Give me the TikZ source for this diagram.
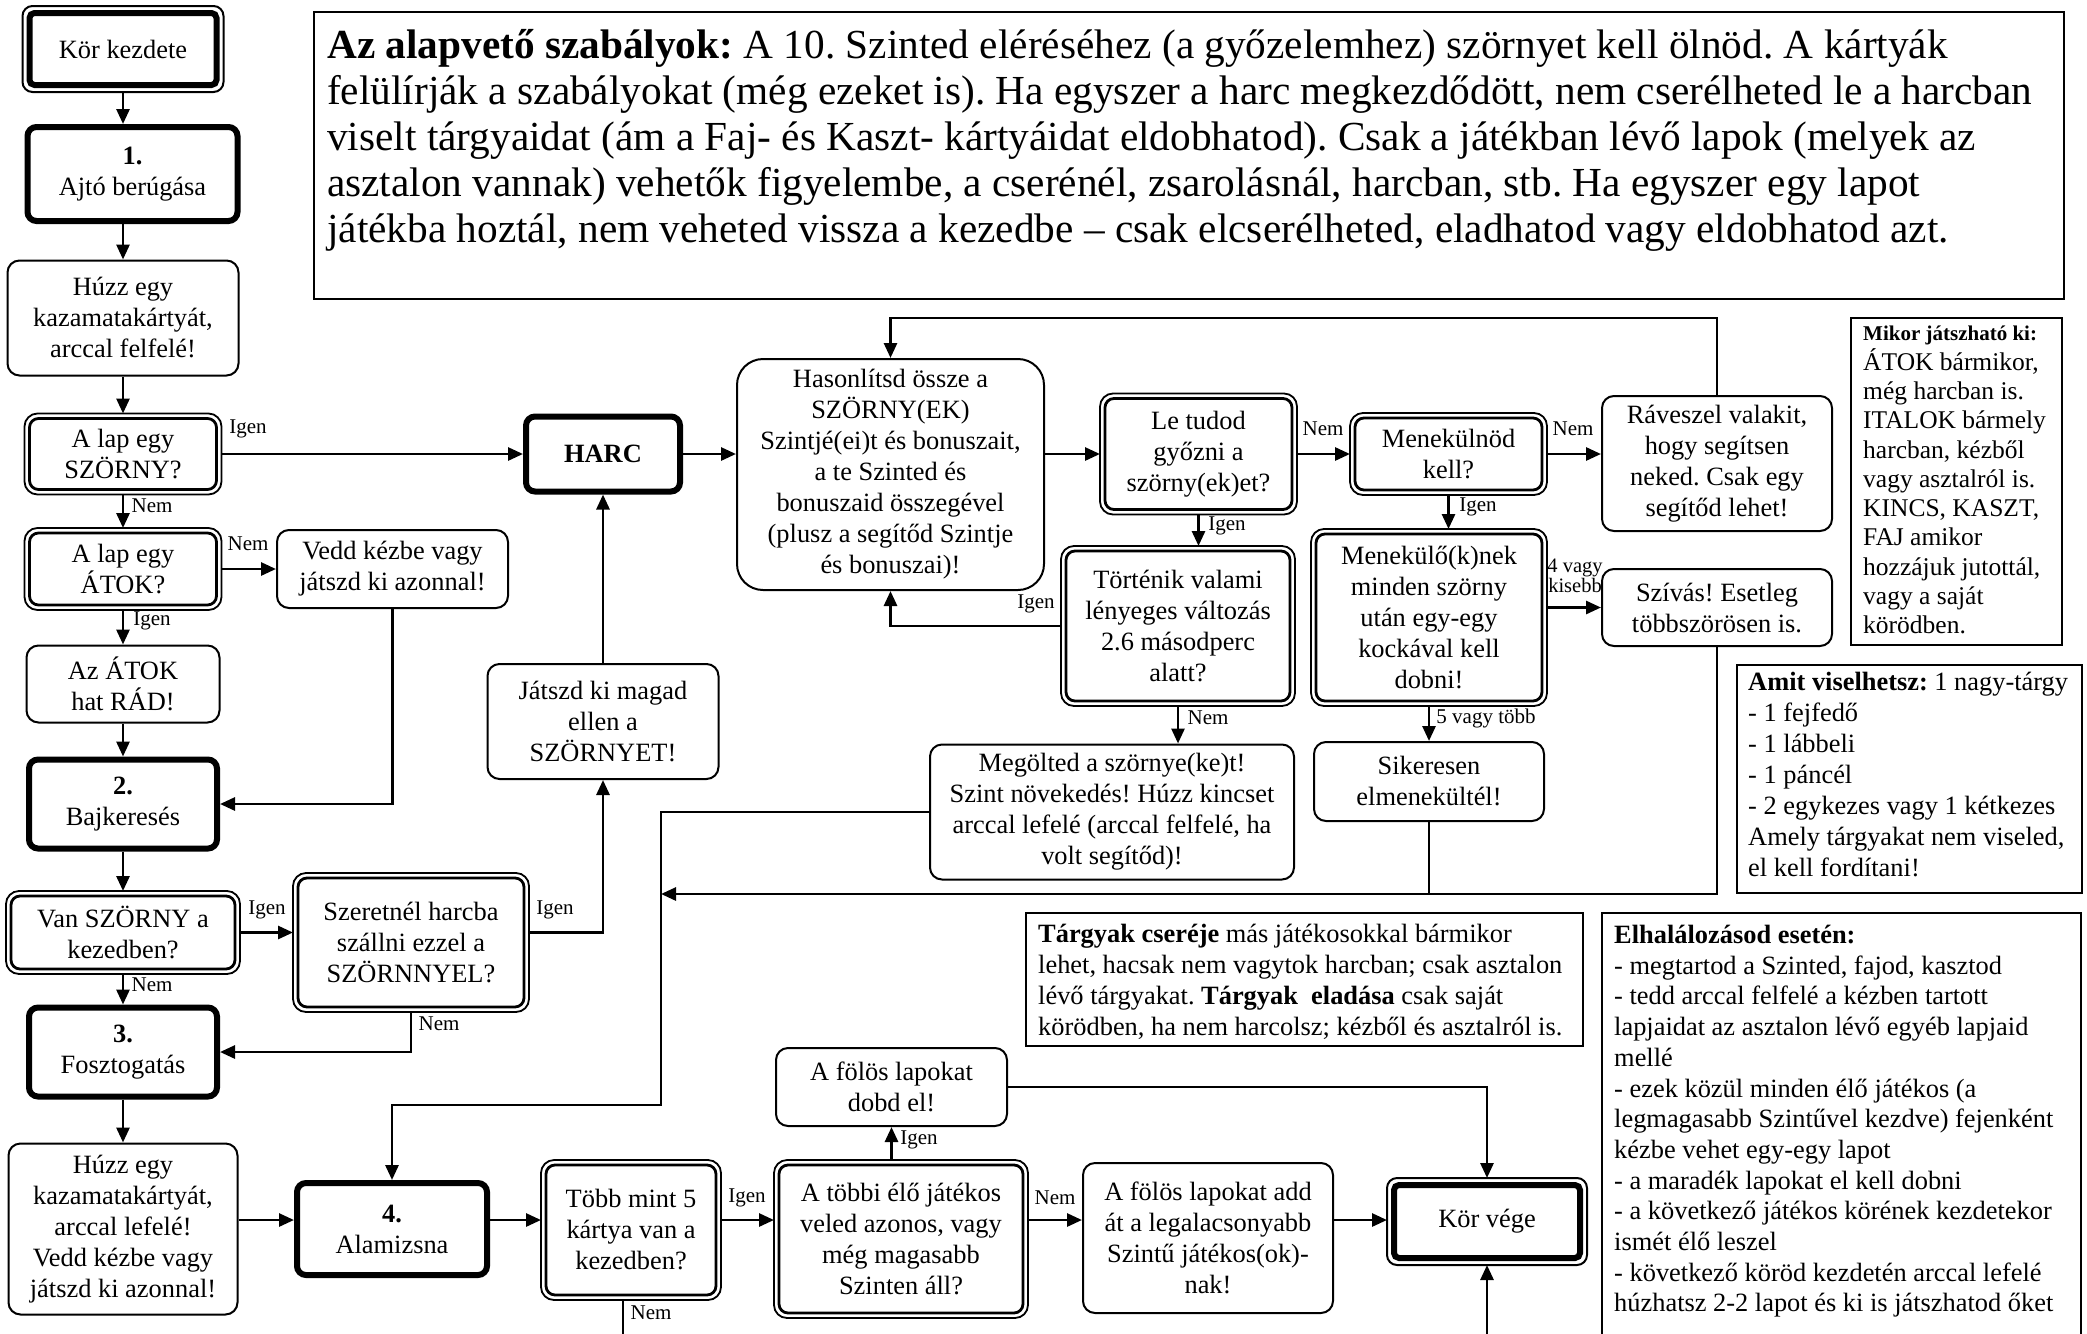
\documentclass[tikz,border=0pt]{standalone}
\usepackage{fontspec}
\setmainfont{Liberation Serif}
\usetikzlibrary{arrows.meta}
\frenchspacing

\tikzset{
  boxtext/.style={align=center, inner sep=2pt, font=\fontsize{26.4}{31}\selectfont},
  process/.style={boxtext, draw, line width=2pt, rounded corners=12pt},
  stepbox/.style={boxtext, draw, line width=6pt, rounded corners=9pt},
  decision/.style={boxtext, draw, line width=2.8pt, rounded corners=9pt, outer sep=5pt},
  startend/.style={boxtext, draw, line width=6pt, rounded corners=5pt, outer sep=7pt},
  dframe/.style={line width=1.8pt, rounded corners=13pt},
  infobox/.style={line width=2.2pt},
  infotext/.style={align=left, anchor=north west, inner sep=0pt, font=\fontsize{26.4}{31}\selectfont},
  lbl/.style={inner sep=0pt, font=\fontsize{21}{24}\selectfont},
  conn/.style={line width=2.8pt},
  arr/.style={conn, -{Triangle[length=15pt,width=13pt]}}
}

\begin{document}
\begin{tikzpicture}[x=1pt, y=-1pt]
\path[use as bounding box, fill=white] (0,0) rectangle (2087,1333);

% left column
\node[startend, minimum width=187, minimum height=72] (korkezd) at (123,49) {Kör kezdete};
\node[stepbox, minimum width=210, minimum height=94] (ajto) at (132.5,174) {\textbf{1.}\\Ajtó berúgása};
\node[process, minimum width=231, minimum height=115] (huzz1) at (123,318) {Húzz egy\\kazamatakártyát,\\arccal felfelé!};
\node[decision, minimum width=187, minimum height=71] (szorny) at (123,454) {A lap egy\\SZÖRNY?};
\node[decision, minimum width=187, minimum height=72] (atok) at (123,569) {A lap egy\\ÁTOK?};
\node[process, minimum width=231, minimum height=78] (vedd) at (392.5,569) {Vedd kézbe vagy\\játszd ki azonnal!};
\node[process, minimum width=193, minimum height=77] (atokhat) at (123,684) {Az ÁTOK\\hat RÁD!};
\node[stepbox, minimum width=188, minimum height=89] (baj) at (123,804) {\textbf{2.}\\Bajkeresés};
\node[decision, minimum width=224, minimum height=73] (van) at (123,932.5) {Van SZÖRNY a\\kezedben?};
\node[decision, minimum width=226, minimum height=129] (szeretnel) at (411,942.5) {Szeretnél harcba\\szállni ezzel a\\SZÖRNNYEL?};
\node[stepbox, minimum width=188, minimum height=89] (foszt) at (123,1052) {\textbf{3.}\\Fosztogatás};
\node[process, minimum width=229, minimum height=171] (huzz2) at (123,1229) {Húzz egy\\kazamatakártyát,\\arccal lefelé!\\Vedd kézbe vagy\\játszd ki azonnal!};

% bottom row
\node[stepbox, minimum width=190, minimum height=92] (alam) at (392,1229) {\textbf{4.}\\Alamizsna};
\node[decision, minimum width=170, minimum height=130] (tobb) at (631,1230) {Több mint 5\\kártya van a\\kezedben?};
\node[decision, minimum width=244, minimum height=148] (tobbi) at (901,1239) {A többi élő játékos\\veled azonos, vagy\\még magasabb\\Szinten áll?};
\node[process, minimum width=231, minimum height=78] (folos) at (891.5,1087) {A fölös lapokat\\dobd el!};
\node[process, minimum width=250, minimum height=150] (addat) at (1208,1238) {A fölös lapokat add\\át a legalacsonyabb\\Szintű játékos(ok)-\\nak!};
\node[startend, minimum width=186, minimum height=73] (korvege) at (1487,1221.5) {Kör vége};

% fight
\node[stepbox, minimum width=154, minimum height=75] (harc) at (603,454) {\textbf{HARC}};
\node[process, minimum width=231, minimum height=115] (jatszd) at (603,721.5) {Játszd ki magad\\ellen a\\SZÖRNYET!};
\node[process, rounded corners=26pt, minimum width=307, minimum height=231] (hason) at (890.5,474.5) {Hasonlítsd össze a\\SZÖRNY(EK)\\Szintjé(ei)t és bonuszait,\\a te Szinted és\\bonuszaid összegével\\(plusz a segítőd Szintje\\és bonuszai)!};
\node[decision, minimum width=187, minimum height=111] (letud) at (1198.5,454) {Le tudod\\győzni a\\szörny(ek)et?};
\node[decision, minimum width=187, minimum height=72] (menek) at (1448.5,454) {Menekülnöd\\kell?};
\node[process, minimum width=230, minimum height=135] (ravesz) at (1717,463.5) {Ráveszel valakit,\\hogy segítsen\\neked. Csak egy\\segítőd lehet!};
\node[decision, minimum width=224, minimum height=150] (tort) at (1178,626) {Történik valami\\lényeges változás\\2.6 másodperc\\alatt?};
\node[process, minimum width=364, minimum height=135] (megol) at (1112,812) {Megölted a szörnye(ke)t!\\Szint növekedés! Húzz kincset\\arccal lefelé (arccal felfelé, ha\\volt segítőd)!};
\node[decision, minimum width=226, minimum height=167] (mene2) at (1429,617.5) {Menekülő(k)nek\\minden szörny\\után egy-egy\\kockával kell\\dobni!};
\node[process, minimum width=230, minimum height=77] (szivas) at (1717,607.5) {Szívás! Esetleg\\többszörösen is.};
\node[process, minimum width=230, minimum height=79] (sikeres) at (1429,781.5) {Sikeresen\\elmenekültél!};

% outer lines of the double boxes
\foreach \n in {szorny,atok,van,szeretnel,letud,menek,tort,mene2,tobb,tobbi}
  \draw[dframe] (\n.north west) rectangle (\n.south east);
\foreach \n in {korkezd,korvege}
  \draw[dframe, line width=2pt, rounded corners=10pt] (\n.north west) rectangle (\n.south east);

% connectors
\coordinate (fent) at (890.5,318);
\coordinate (gyujto) at (661,894);
\coordinate (kanyar) at (661,1105);
\coordinate (sor4) at (0,1220);
\coordinate (tobbki) at (623,1345);
\coordinate (vegbe) at (1487,1345);

\draw[arr] (korkezd) -- (korkezd |- ajto.north);
\draw[arr] (ajto.south -| huzz1) -- (huzz1);
\draw[arr] (huzz1) -- (szorny);
\draw[arr] (szorny) -- (atok);
\draw[arr] (atok) -- (vedd);
\draw[arr] (atok) -- (atokhat);
\draw[arr] (vedd) |- (baj);
\draw[arr] (atokhat) -- (baj);
\draw[arr] (baj) -- (van);
\draw[arr] (van) -- (van -| szeretnel.west);
\draw[arr] (szeretnel.east |- van) -| (jatszd);
\draw[arr] (van) -- (foszt);
\draw[arr] (szeretnel) |- (foszt);
\draw[arr] (foszt) -- (huzz2);

\draw[arr] (szorny) -- (harc);
\draw[arr] (jatszd) -- (harc);
\draw[arr] (harc) -- (harc -| hason.west);
\draw[arr] (hason.east |- letud) -- (letud);
\draw[arr] (letud) -- (menek);
\draw[arr] (menek) -- (menek -| ravesz.west);
\draw[arr] (ravesz.north) |- (fent) -- (hason);
\draw[arr] (letud) -- (letud |- tort.north);
\draw[arr] (tort) -| (hason);
\draw[arr] (tort) -- (tort |- megol.north);
\draw[arr] (menek) -- (menek |- mene2.north);
\draw[arr] (mene2.east |- szivas) -- (szivas);
\draw[arr] (mene2) -- (mene2 |- sikeres.north);
\draw[arr] (szivas) |- (gyujto);
\draw[conn] (sikeres) -- (sikeres |- gyujto);
\draw[arr] (megol) -| (kanyar) -| (alam);

\draw[arr] (huzz2.east |- sor4) -- (alam.west |- sor4);
\draw[arr] (alam.east |- sor4) -- (tobb.west |- sor4);
\draw[arr] (tobb.east |- sor4) -- (tobbi.west |- sor4);
\draw[arr] (tobbi.east |- sor4) -- (addat.west |- sor4);
\draw[arr] (addat.east |- sor4) -- (korvege.west |- sor4);
\draw[arr] (tobbi.north -| folos) -- (folos);
\draw[arr] (folos) -| (korvege);
\draw[conn] (tobb.south -| tobbki) -- (tobbki);
\draw[arr] (vegbe) -- (korvege);

% labels
\foreach \p/\t [count=\i] in {{248,429}/Igen, {152,506}/Nem, {248,544}/Nem, {152,621}/Igen,
    {267,910}/Igen, {555,910}/Igen, {152,985}/Nem, {439,1024}/Nem, {651,1313}/Nem,
    {747,1198}/Igen, {919,1140}/Igen, {1055,1198}/Nem, {1323,429}/Nem, {1573,429}/Nem,
    {1227,526}/Igen, {1036,604}/Igen, {1208,718}/Nem, {1478,507}/Igen, {1486,718}/5 vagy több}
  \node[lbl] (c\i) at (\p) {\t};
\node[lbl, align=center, font=\fontsize{20.5}{20}\selectfont] (kisebb) at (1575,576) {4 vagy\\kisebb};

% rule boxes
\draw[infobox] (314,12) rectangle (2064,299);
\node[infotext, font=\fontsize{41.3}{46}\selectfont] (szabaly) at (327,29)
  {\textbf{Az alapvető szabályok:} A 10. Szinted eléréséhez (a győzelemhez) szörnyet kell ölnöd. A kártyák\\
   felülírják a szabályokat (még ezeket is). Ha egyszer a harc megkezdődött, nem cserélheted le a harcban\\
   viselt tárgyaidat (ám a Faj- és Kaszt- kártyáidat eldobhatod). Csak a játékban lévő lapok (melyek az\\
   asztalon vannak) vehetők figyelembe, a cserénél, zsarolásnál, harcban, stb. Ha egyszer egy lapot\\
   játékba hoztál, nem veheted vissza a kezedbe – csak elcserélheted, eladhatod vagy eldobhatod azt.};

\draw[infobox] (1851,318) rectangle (2062,645);
\node[infotext, font=\fontsize{25.5}{29.3}\selectfont] (mikor) at (1863,326)
  {{\fontsize{21}{29.3}\selectfont\bfseries Mikor játszható ki:}\\ÁTOK bármikor,\\még harcban is.\\ITALOK bármely\\harcban, kézből\\vagy asztalról is.\\KINCS, KASZT,\\FAJ amikor\\hozzájuk jutottál,\\vagy a saját\\körödben.};

\draw[infobox] (1737,665) rectangle (2082,893);
\node[infotext] (amit) at (1748,672)
  {\textbf{Amit viselhetsz:} 1 nagy-tárgy\\- 1 fejfedő\\- 1 lábbeli\\- 1 páncél\\- 2 egykezes vagy 1 kétkezes\\Amely tárgyakat nem viseled,\\el kell fordítani!};

\draw[infobox] (1026,913) rectangle (1583,1046);
\node[infotext] (targyak) at (1038,924)
  {\textbf{Tárgyak cseréje} más játékosokkal bármikor\\lehet, hacsak nem vagytok harcban; csak asztalon\\lévő tárgyakat. \textbf{Tárgyak\ \ eladása} csak saját\\körödben, ha nem harcolsz; kézből és asztalról is.};

\draw[infobox] (1602,913) rectangle (2081,1345);
\node[infotext, font=\fontsize{26.4}{30.7}\selectfont] (elhal) at (1614,925)
  {\textbf{Elhalálozásod esetén:}\\- megtartod a Szinted, fajod, kasztod\\- tedd arccal felfelé a kézben tartott\\lapjaidat az asztalon lévő egyéb lapjaid\\mellé\\- ezek közül minden élő játékos (a\\legmagasabb Szintűvel kezdve) fejenként\\kézbe vehet egy-egy lapot\\- a maradék lapokat el kell dobni\\- a következő játékos körének kezdetekor\\ismét élő leszel\\- következő köröd kezdetén arccal lefelé\\húzhatsz 2-2 lapot és ki is játszhatod őket};
\end{tikzpicture}
\end{document}
